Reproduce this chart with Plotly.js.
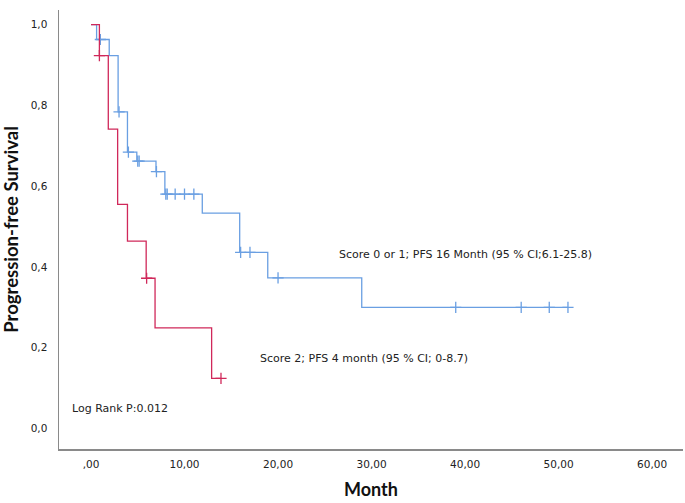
<!DOCTYPE html>
<html>
<head>
<meta charset="utf-8">
<script src="https://cdn.plot.ly/plotly-3.0.1.min.js"></script>
<style>html,body{margin:0;padding:0;background:#fff;}#chart{width:685px;height:503px;}</style>
</head>
<body>
<div id="chart"></div>
<script>
// Score 0 or 1 (blue) step curve
const blueTimes = [0, 0.6, 1.95, 2.9, 3.9, 4.9, 6.95, 7.9, 11.9, 15.9, 18.9, 28.95, 51];
const blueSurv  = [1.0, 0.963, 0.923, 0.784, 0.684, 0.662, 0.636, 0.580, 0.533, 0.436, 0.373, 0.300, 0.300];
const blueCensTimes = [1, 3, 4, 5, 5.15, 7, 8, 8.15, 9, 10, 11, 16, 17, 20, 39, 46, 49, 51];
const blueCensSurv  = [0.963, 0.784, 0.684, 0.662, 0.662, 0.636, 0.580, 0.580, 0.580, 0.580, 0.580, 0.436, 0.436, 0.373, 0.300, 0.300, 0.300, 0.300];

// Score 2 (red) step curve
const redTimes = [0, 0.9, 1.85, 2.85, 3.9, 5.9, 6.85, 12.9, 13.9];
const redSurv  = [1.0, 0.923, 0.741, 0.555, 0.464, 0.372, 0.249, 0.124, 0.124];
const redCensTimes = [0.9, 5.95, 13.9];
const redCensSurv  = [0.923, 0.372, 0.124];

const xTickVals = [0, 10, 20, 30, 40, 50, 60];
const xTickText = [",00", "10,00", "20,00", "30,00", "40,00", "50,00", "60,00"];
const yTickVals = [0, 0.2, 0.4, 0.6, 0.8, 1.0];
const yTickText = ["0,0", "0,2", "0,4", "0,6", "0,8", "1,0"];

const blueColor = "#6a9fe2";
const redColor = "#d0285a";

const censMarker = (c) => ({symbol: "cross-thin", size: 8, line: {color: c, width: 1.3}});

const traces = [
  {x: blueTimes, y: blueSurv, mode: "lines", line: {shape: "hv", color: blueColor, width: 1.3}, hoverinfo: "skip"},
  {x: blueCensTimes, y: blueCensSurv, mode: "markers", marker: censMarker(blueColor), hoverinfo: "skip"},
  {x: redTimes, y: redSurv, mode: "lines", line: {shape: "hv", color: redColor, width: 1.3}, hoverinfo: "skip"},
  {x: redCensTimes, y: redCensSurv, mode: "markers", marker: censMarker(redColor), hoverinfo: "skip"}
];

const layout = {
  width: 685, height: 503,
  margin: {l: 59, r: 2, t: 10, b: 54},
  paper_bgcolor: "#fff", plot_bgcolor: "#fff",
  showlegend: false,
  font: {family: "DejaVu Sans, sans-serif", size: 11, color: "#222"},
  xaxis: {
    range: [-3.42, 63.3], showgrid: false, zeroline: false,
    showline: true, linecolor: "#8a8a8a", linewidth: 1.5,
    tickmode: "array", tickvals: xTickVals, ticktext: xTickText,
    ticks: "", ticklabelstandoff: 5,
    tickfont: {family: "DejaVu Sans, sans-serif", size: 10.5, color: "#222"},
    title: {text: "Month", font: {family: "Lato, sans-serif", size: 18, color: "#111", weight: "bold"}, standoff: 14}
  },
  yaxis: {
    range: [-0.0507, 1.036], showgrid: false, zeroline: false,
    showline: true, linecolor: "#8a8a8a", linewidth: 1.5,
    tickmode: "array", tickvals: yTickVals, ticktext: yTickText,
    ticks: "", ticklabelstandoff: 8,
    tickfont: {family: "DejaVu Sans, sans-serif", size: 10.5, color: "#222"},
    title: {text: "Progression-free Survival", font: {family: "Lato, sans-serif", size: 18.5, color: "#111", weight: "bold"}, standoff: 10}
  },
  annotations: [
    {x: 26.3, y: 0.432, xref: "x", yref: "y", text: "Score 0 or 1; PFS 16 Month (95 % CI;6.1-25.8)", showarrow: false, xanchor: "left", yanchor: "middle", font: {size: 11, color: "#222"}},
    {x: 17.9, y: 0.174, xref: "x", yref: "y", text: "Score 2; PFS 4 month (95 % CI; 0-8.7)", showarrow: false, xanchor: "left", yanchor: "middle", font: {size: 11, color: "#222"}},
    {x: -2.2, y: 0.05, xref: "x", yref: "y", text: "Log Rank P:0.012", showarrow: false, xanchor: "left", yanchor: "middle", font: {size: 11, color: "#222"}}
  ]
};

Plotly.newPlot("chart", traces, layout, {displayModeBar: false, staticPlot: true});
</script>
</body>
</html>
